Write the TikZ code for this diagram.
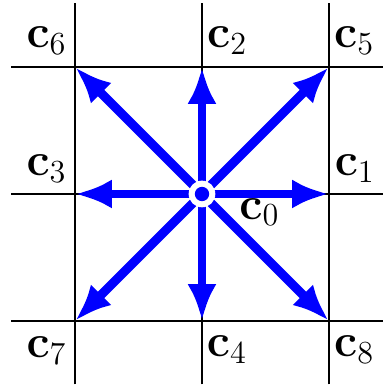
\documentclass[tikz,border=0pt]{standalone}
\usetikzlibrary{arrows.meta}
\begin{document}
\begin{tikzpicture}[
  gridline/.style={black,line width=0.8pt},
  vec/.style={blue,line width=4pt,-{Latex[length=16.5pt,width=13pt]}},
  lbl/.style={inner sep=0pt,font=\huge}
]
\clip (-3.181,-3.024) rectangle (2.850,3.055);
% grid lines
\foreach \v in {-2,0,2} {
  \draw[gridline] (\v,-3) -- (\v,3);
  \draw[gridline] (-3,\v) -- (3,\v);
}
% named points
\coordinate (p0) at (0,0);
\coordinate (p1) at (2,0);
\coordinate (p2) at (0,2);
\coordinate (p3) at (-2,0);
\coordinate (p4) at (0,-2);
\coordinate (p5) at (2,2);
\coordinate (p6) at (-2,2);
\coordinate (p7) at (-2,-2);
\coordinate (p8) at (2,-2);
% arrows
\foreach \i in {1,...,8} {
  \draw[vec] (p0) -- (p\i);
}
% centre marker
\fill[white] (p0) circle (0.21);
\fill[blue] (p0) circle (0.113);
% labels
\node[lbl,anchor=base west] (c0) at (0.583,-0.394) {$\mathbf{c}_0$};
\node[lbl,anchor=base west] (c1) at (2.085,0.29) {$\mathbf{c}_1$};
\node[lbl,anchor=base west] (c2) at (0.075,2.30) {$\mathbf{c}_2$};
\node[lbl,anchor=base east] (c3) at (-2.126,0.29) {$\mathbf{c}_3$};
\node[lbl,anchor=base west] (c4) at (0.07,-2.56) {$\mathbf{c}_4$};
\node[lbl,anchor=base west] (c5) at (2.075,2.30) {$\mathbf{c}_5$};
\node[lbl,anchor=base east] (c6) at (-2.126,2.31) {$\mathbf{c}_6$};
\node[lbl,anchor=base east] (c7) at (-2.126,-2.57) {$\mathbf{c}_7$};
\node[lbl,anchor=base west] (c8) at (2.075,-2.56) {$\mathbf{c}_8$};
\end{tikzpicture}
\end{document}
